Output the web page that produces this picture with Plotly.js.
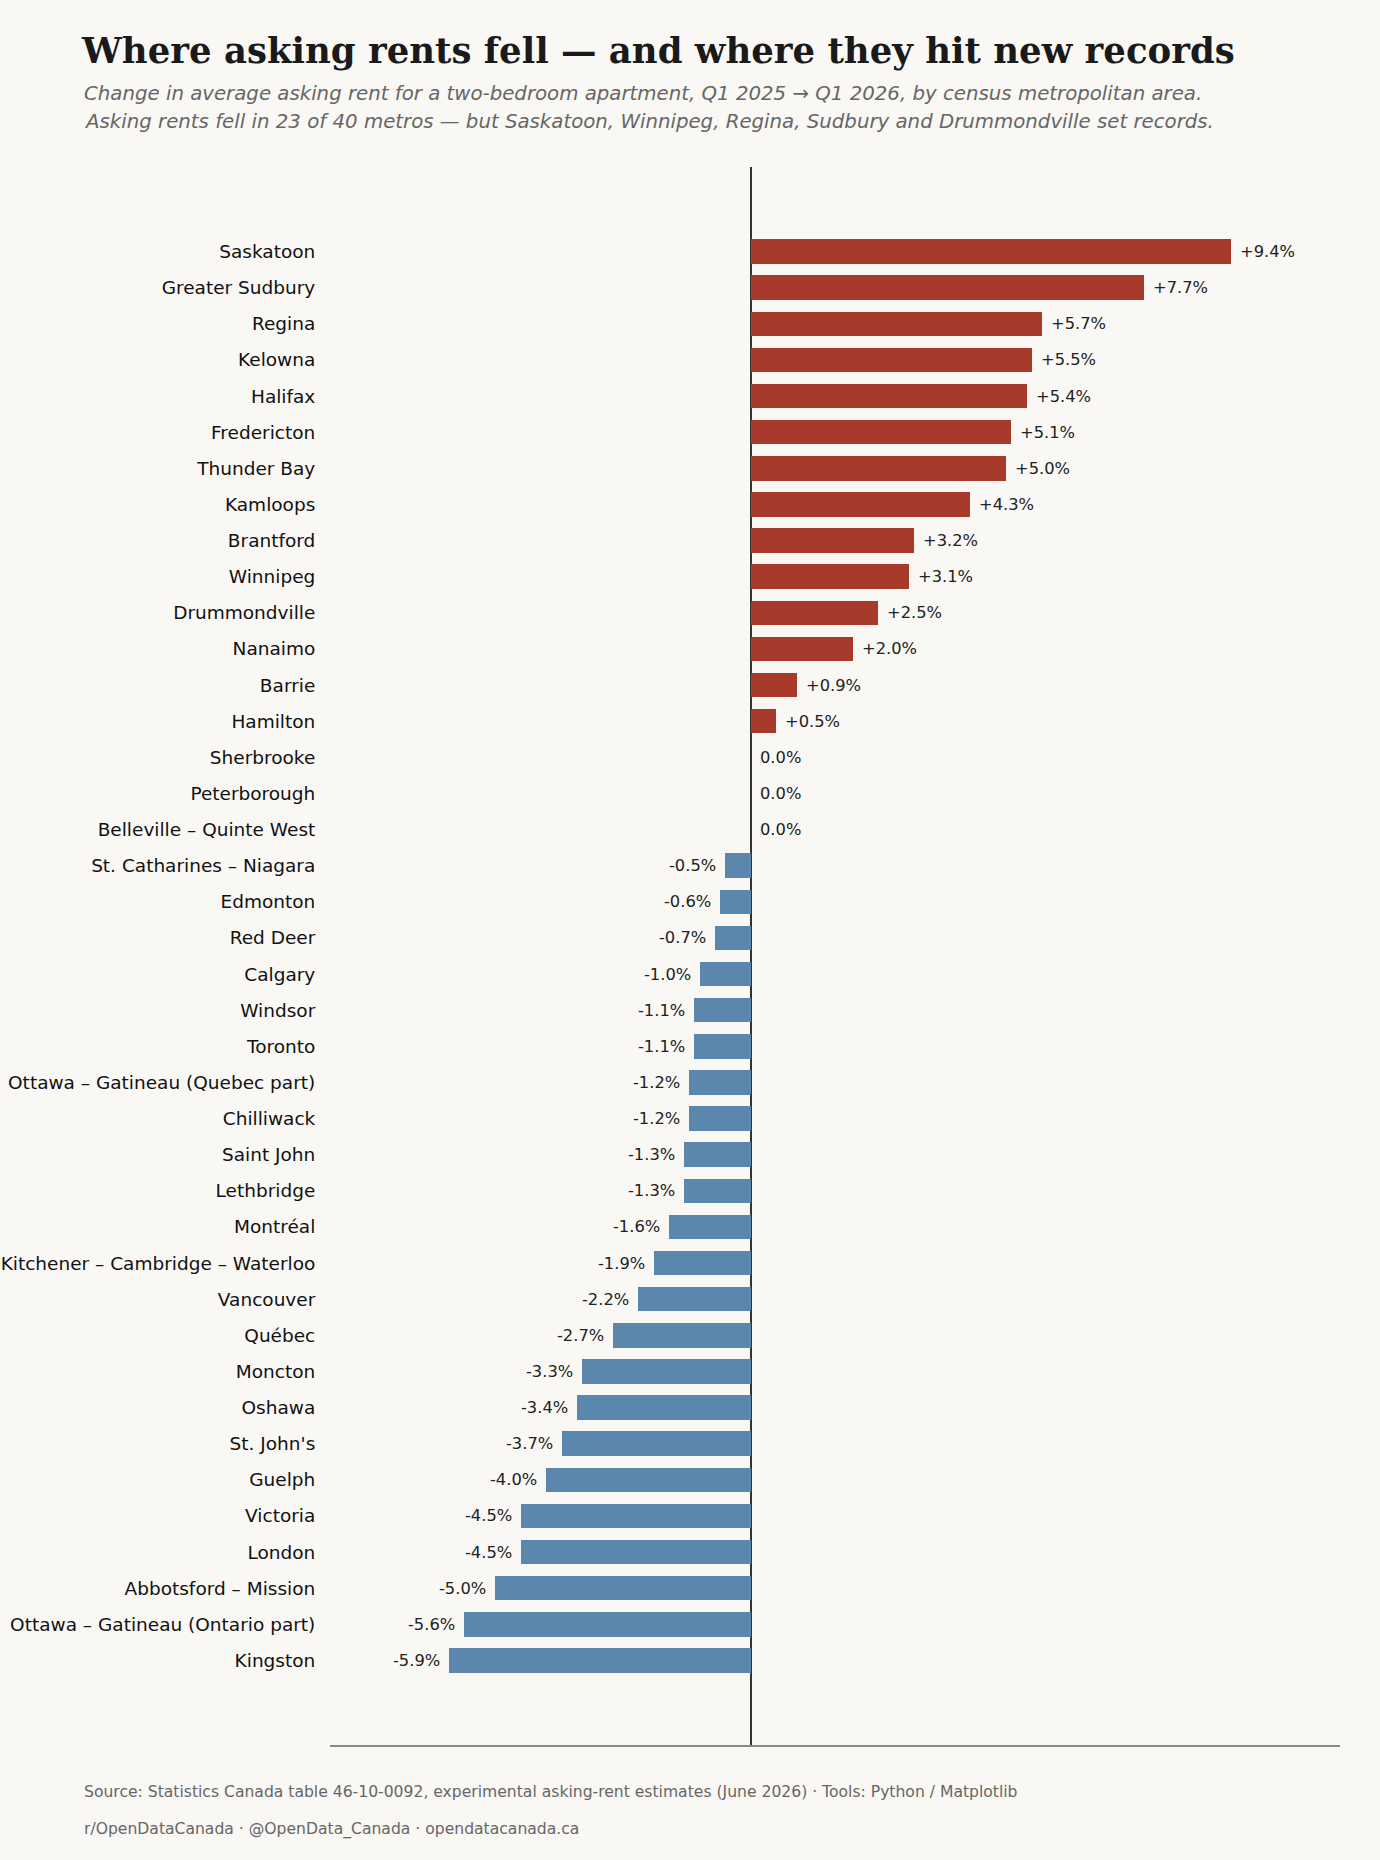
<!DOCTYPE html>
<html>
<head>
<meta charset="utf-8">
<script src="https://cdn.plot.ly/plotly-3.0.1.min.js"></script>
<style>
  html, body { margin: 0; padding: 0; background: #f9f8f4; }
  #chart { width: 1380px; height: 1860px; }
</style>
</head>
<body>
<div id="chart"></div>
<script>
// Census metropolitan areas, ordered from largest rise to largest fall
const metros = [
  "Saskatoon", "Greater Sudbury", "Regina", "Kelowna", "Halifax",
  "Fredericton", "Thunder Bay", "Kamloops", "Brantford", "Winnipeg",
  "Drummondville", "Nanaimo", "Barrie", "Hamilton", "Sherbrooke",
  "Peterborough", "Belleville – Quinte West", "St. Catharines – Niagara", "Edmonton", "Red Deer",
  "Calgary", "Windsor", "Toronto", "Ottawa – Gatineau (Quebec part)", "Chilliwack",
  "Saint John", "Lethbridge", "Montréal", "Kitchener – Cambridge – Waterloo", "Vancouver",
  "Québec", "Moncton", "Oshawa", "St. John's", "Guelph",
  "Victoria", "London", "Abbotsford – Mission", "Ottawa – Gatineau (Ontario part)", "Kingston"
];

// Year-over-year change in average two-bedroom asking rent, %
const pctChange = [
  9.4, 7.7, 5.7, 5.5, 5.4,
  5.1, 5.0, 4.3, 3.2, 3.1,
  2.5, 2.0, 0.9, 0.5, 0.0,
  0.0, 0.0, -0.5, -0.6, -0.7,
  -1.0, -1.1, -1.1, -1.2, -1.2,
  -1.3, -1.3, -1.6, -1.9, -2.2,
  -2.7, -3.3, -3.4, -3.7, -4.0,
  -4.5, -4.5, -5.0, -5.6, -5.9
];

const RISE = "#a83a2b";
const FALL = "#5b87ad";

const fmt = v => (v > 0 ? "+" : "") + v.toFixed(1) + "%";

const bars = {
  type: "bar",
  orientation: "h",
  x: pctChange,
  y: metros,
  width: 0.68,
  marker: { color: pctChange.map(v => v < 0 ? FALL : RISE), line: { width: 0 } },
  hoverinfo: "skip",
  showlegend: false
};

// Value labels just beyond each bar end
const valueLabels = pctChange.map((v, i) => ({
  x: v,
  y: metros[i],
  xref: "x",
  yref: "y",
  text: fmt(v),
  showarrow: false,
  xanchor: v < 0 ? "right" : "left",
  xshift: v < 0 ? -7 : 7,
  yanchor: "middle",
  font: { family: "DejaVu Sans", size: 16.3, color: "#222222" }
}));

// Plot area: x 330..1340, y 167..1745 (pixels)
const L = 330, R = 40, T = 167, B = 115, W = 1380, H = 1860;
const pw = W - L - R, ph = H - T - B;
const px = xpx => (xpx - L) / pw;
const py = ypx => (H - B - ypx) / ph;

const textNotes = [
  {
    text: "Change in average asking rent for a two-bedroom apartment, Q1 2025 → Q1 2026, by census metropolitan area.",
    x: px(82), y: py(93), font: { family: "DejaVu Sans", size: 19.75, color: "#666666", style: "italic" }
  },
  {
    text: "Asking rents fell in 23 of 40 metros — but Saskatoon, Winnipeg, Regina, Sudbury and Drummondville set records.",
    x: px(82), y: py(121), font: { family: "DejaVu Sans", size: 19.75, color: "#666666", style: "italic" }
  },
  {
    text: "Source: Statistics Canada table 46-10-0092, experimental asking-rent estimates (June 2026) · Tools: Python / Matplotlib",
    x: px(82), y: py(1792), font: { family: "DejaVu Sans", size: 15.6, color: "#666666" }
  },
  {
    text: "r/OpenDataCanada · @OpenData_Canada · opendatacanada.ca",
    x: px(82), y: py(1829), font: { family: "DejaVu Sans", size: 15.6, color: "#666666" }
  }
].map(a => Object.assign({
  xref: "paper", yref: "paper", showarrow: false,
  xanchor: "left", yanchor: "middle", align: "left"
}, a));

const layout = {
  width: W,
  height: H,
  paper_bgcolor: "#f9f8f4",
  plot_bgcolor: "#f9f8f4",
  margin: { l: L, r: R, t: T, b: B, pad: 0 },
  title: {
    text: "<b>Where asking rents fell — and where they hit new records</b>",
    font: { family: "DejaVu Serif", size: 35.5, color: "#1a1a1a" },
    xref: "container", yref: "container",
    x: 82 / W, xanchor: "left",
    y: 1 - 51 / H, yanchor: "middle"
  },
  xaxis: {
    range: [-8.23, 11.53],
    showgrid: false,
    showticklabels: false,
    ticks: "",
    zeroline: true,
    zerolinecolor: "#333333",
    zerolinewidth: 2,
    showline: true,
    linecolor: "#888888",
    linewidth: 2,
    fixedrange: true
  },
  yaxis: {
    type: "category",
    categoryorder: "array",
    categoryarray: metros,
    range: [41.34, -2.34],
    showgrid: false,
    zeroline: false,
    showline: false,
    ticks: "outside",
    ticklen: 10,
    tickcolor: "rgba(0,0,0,0)",
    tickfont: { family: "DejaVu Sans", size: 18.5, color: "#111111" },
    fixedrange: true
  },
  bargap: 0,
  annotations: valueLabels.concat(textNotes)
};

Plotly.newPlot("chart", [bars], layout, { staticPlot: true, displayModeBar: false });
</script>
</body>
</html>
